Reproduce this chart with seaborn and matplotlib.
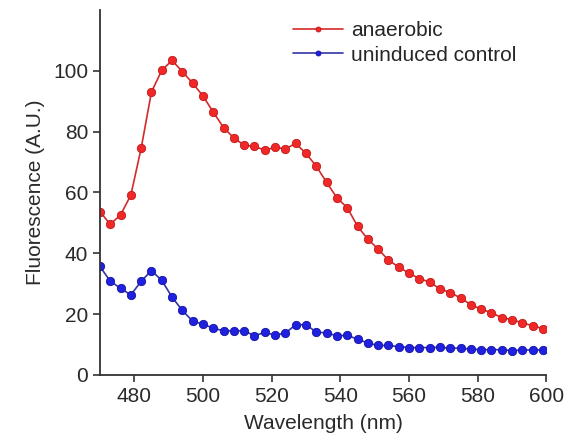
import numpy as np
import pandas as pd
import matplotlib
matplotlib.use("Agg")
import matplotlib.pyplot as plt
import seaborn as sns

wavelength = list(range(470, 600, 3))

anaerobic = [53.7, 49.5, 52.6, 59.1, 74.5, 93.0, 100.1, 103.4, 99.7, 95.9,
             91.7, 86.4, 81.3, 77.9, 75.5, 75.1, 73.9, 74.8, 74.3, 76.1,
             72.8, 68.6, 63.3, 58.2, 55.0, 48.9, 44.6, 41.4, 37.7, 35.5,
             33.4, 31.7, 30.5, 28.3, 27.1, 25.3, 23.1, 21.6, 20.5, 18.8,
             18.2, 17.1, 16.2, 15.2]

uninduced = [35.7, 30.8, 28.5, 26.3, 30.8, 34.3, 31.1, 25.6, 21.2, 17.7,
             16.7, 15.4, 14.5, 14.5, 14.5, 12.9, 14.0, 13.1, 13.8, 16.5,
             16.5, 14.1, 13.8, 12.9, 13.0, 11.8, 10.5, 9.7, 9.7, 9.3,
             9.0, 9.0, 9.0, 9.1, 8.8, 8.8, 8.5, 8.3, 8.3, 8.3,
             8.0, 8.2, 8.2, 8.2]

series_names = ["anaerobic", "uninduced control"]
x_ticks = [480, 500, 520, 540, 560, 580, 600]
y_ticks = [0, 20, 40, 60, 80, 100]

sns.set_theme(style="ticks")
plt.rcParams['font.family'] = ['Liberation Sans', 'DejaVu Sans']

fig = plt.figure(figsize=(5.71, 4.48), dpi=100)
ax = fig.add_axes([0.175, 0.163, 0.782, 0.815])

df_a = pd.DataFrame({"Wavelength": wavelength, "Fluorescence": anaerobic})
df_u = pd.DataFrame({"Wavelength": wavelength, "Fluorescence": uninduced})

sns.lineplot(data=df_a, x="Wavelength", y="Fluorescence", ax=ax,
             color="#d42a2a", marker="o", markersize=6,
             markerfacecolor="#f02828", markeredgecolor="#c01818",
             markeredgewidth=0.6, linewidth=1.2, label=series_names[0])
sns.lineplot(data=df_u, x="Wavelength", y="Fluorescence", ax=ax,
             color="#3434a8", marker="o", markersize=6,
             markerfacecolor="#2020e0", markeredgecolor="#1414a0",
             markeredgewidth=0.6, linewidth=1.2, label=series_names[1])

ax.set_xlim(470, 600)
ax.set_ylim(0, 120)
ax.set_xticks(x_ticks)
ax.set_yticks(y_ticks)
ax.set_xlabel("Wavelength (nm)", fontsize=15, color="#2a2a2a", labelpad=6)
ax.set_ylabel("Fluorescence (A.U.)", fontsize=15, color="#2a2a2a", labelpad=6)
ax.tick_params(axis="both", labelsize=15, length=5, width=1.2,
               colors="#333333", labelcolor="#2a2a2a", direction="out")
for s in ["top", "right"]:
    ax.spines[s].set_visible(False)
for s in ["left", "bottom"]:
    ax.spines[s].set_linewidth(1.3)
    ax.spines[s].set_color("#333333")

leg = ax.legend(loc="upper left", bbox_to_anchor=(0.39, 1.02), frameon=False,
                fontsize=15, handlelength=2.4, handletextpad=0.4,
                labelspacing=0.25, markerscale=0.6)

fig.savefig("out.png", dpi=100)
